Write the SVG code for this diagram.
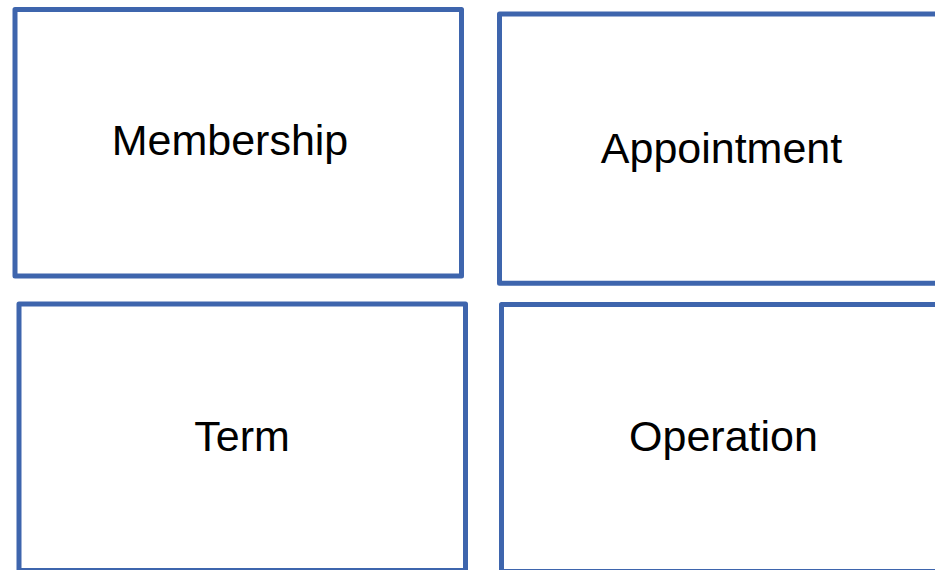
<svg xmlns="http://www.w3.org/2000/svg" width="935" height="570" viewBox="0 0 935 570">
<style>
.box{fill:#ffffff;stroke:#3e65ad;stroke-width:5;stroke-linejoin:round}
.lbl{font-family:"Liberation Sans",Arial,sans-serif;font-size:43px;fill:#000000;text-anchor:middle}
</style>
<rect width="935" height="570" fill="#ffffff"/>
<g id="membership">
<rect class="box" x="15" y="9.5" width="446.5" height="266.5"/>
<text class="lbl" x="230" y="155">Membership</text>
</g>
<g id="appointment">
<rect class="box" x="499.5" y="14" width="450" height="269.3"/>
<text class="lbl" x="721.5" y="163">Appointment</text>
</g>
<g id="term">
<rect class="box" x="19" y="304" width="446.5" height="266.5"/>
<text class="lbl" x="242" y="451">Term</text>
</g>
<g id="operation">
<rect class="box" x="501.5" y="304.5" width="450" height="267"/>
<text class="lbl" x="723.5" y="450.5">Operation</text>
</g>
<g id="connectors"></g>
</svg>
